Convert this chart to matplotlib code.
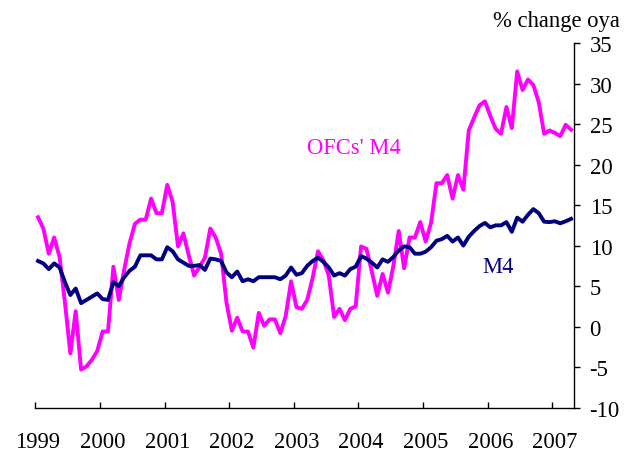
import matplotlib.pyplot as plt
import numpy as np

# monthly data, Jan 1999 - Apr 2007 (% change oya)
ofcs_m4 = [13.5, 12.1, 9.0, 11.0, 8.6, 3.0, -3.3, 1.9, -5.3, -4.9,
           -4.1, -3.0, -0.6, -0.6, 7.4, 3.3, 7.0, 10.3, 12.7, 13.2,
           13.2, 15.8, 14.0, 14.0, 17.5, 15.4, 9.9, 11.5, 8.8, 6.3,
           7.4, 8.5, 12.1, 11.0, 9.0, 3.0, -0.5, 1.1, -0.6, -0.6,
           -2.6, 1.7, 0.1, 0.9, 0.9, -0.8, 1.3, 5.6, 2.4, 2.2,
           3.3, 6.0, 9.3, 8.2, 6.3, 1.2, 2.2, 0.8, 2.2, 2.5,
           9.9, 9.6, 6.8, 3.8, 6.5, 4.2, 7.5, 11.8, 7.2, 11.0,
           11.0, 12.9, 10.5, 12.8, 17.7, 17.7, 18.7, 15.8, 18.7, 16.9,
           24.2, 25.8, 27.3, 27.8, 26.0, 24.4, 23.8, 27.1, 24.5, 31.5,
           29.2, 30.5, 29.8, 27.7, 23.8, 24.2, 23.9, 23.5, 24.9, 24.3]
m4 = [8.1, 7.8, 7.1, 7.8, 7.3, 5.5, 3.9, 4.7, 2.9, 3.3,
      3.7, 4.1, 3.4, 3.3, 5.5, 5.0, 6.1, 6.9, 7.4, 8.8,
      8.8, 8.8, 8.3, 8.3, 9.8, 9.3, 8.3, 7.9, 7.5, 7.5,
      7.6, 7.0, 8.4, 8.3, 8.1, 6.7, 6.1, 6.8, 5.6, 5.85,
      5.6, 6.1, 6.1, 6.1, 6.1, 5.85, 6.3, 7.3, 6.4, 6.6,
      7.5, 8.1, 8.5, 8.0, 7.3, 6.3, 6.6, 6.3, 7.1, 7.4,
      8.7, 8.4, 7.9, 7.3, 8.3, 8.0, 8.6, 9.4, 9.9, 9.8,
      9.0, 9.0, 9.25, 9.8, 10.6, 10.8, 11.2, 10.5, 11.0, 10.0,
      11.1, 11.8, 12.4, 12.8, 12.25, 12.5, 12.5, 12.9, 11.7, 13.45,
      12.95, 13.8, 14.5, 14.0, 12.95, 12.9, 13.0, 12.75, 13.0, 13.3]
years = ['1999', '2000', '2001', '2002', '2003', '2004', '2005', '2006', '2007']

plt.rcParams['font.family'] = ['Liberation Serif', 'DejaVu Serif']
plt.rcParams['axes.unicode_minus'] = False
fs = 16.3

# month index, points sit in the middle of each month
x = np.arange(len(m4)) + 0.5

fig = plt.figure(figsize=(6.4, 4.52), dpi=100)
ax = fig.add_axes([0.0552, 0.0958, 0.8421, 0.8069])

ax.plot(x, ofcs_m4, color='#FF00FF', linewidth=2.8, solid_joinstyle='round')
ax.plot(x, m4, color='#000080', linewidth=2.8, solid_joinstyle='round')

ax.set_xlim(0, 100.1)
ax.set_ylim(-10, 35)

for s in ['left', 'top']:
    ax.spines[s].set_visible(False)
ax.spines['bottom'].set_linewidth(1.0)
ax.spines['right'].set_linewidth(1.0)

ax.yaxis.tick_right()
ax.set_yticks(range(-10, 36, 5))
ax.tick_params(axis='y', direction='out', length=4.5, width=1.0, pad=6.5, labelsize=fs)

# tick marks at the start of each year, labels in the middle of January
ax.set_xticks([12 * k for k in range(len(years))], minor=True)
ax.set_xticks([12 * k + 0.5 for k in range(len(years))])
ax.set_xticklabels(years)
ax.tick_params(axis='x', which='minor', direction='in', length=4.5, width=1.0)
ax.tick_params(axis='x', which='major', length=0, pad=16.5, labelsize=fs)

fig.text(0.969, 0.953, '% change oya', ha='right', va='center', fontsize=fs)
fig.text(0.48, 0.672, "OFCs' M4", ha='left', va='center', fontsize=fs, color='#FF00FF')
fig.text(0.753, 0.409, 'M4', ha='left', va='center', fontsize=fs, color='#000080')

fig.savefig('out.png', dpi=100)
